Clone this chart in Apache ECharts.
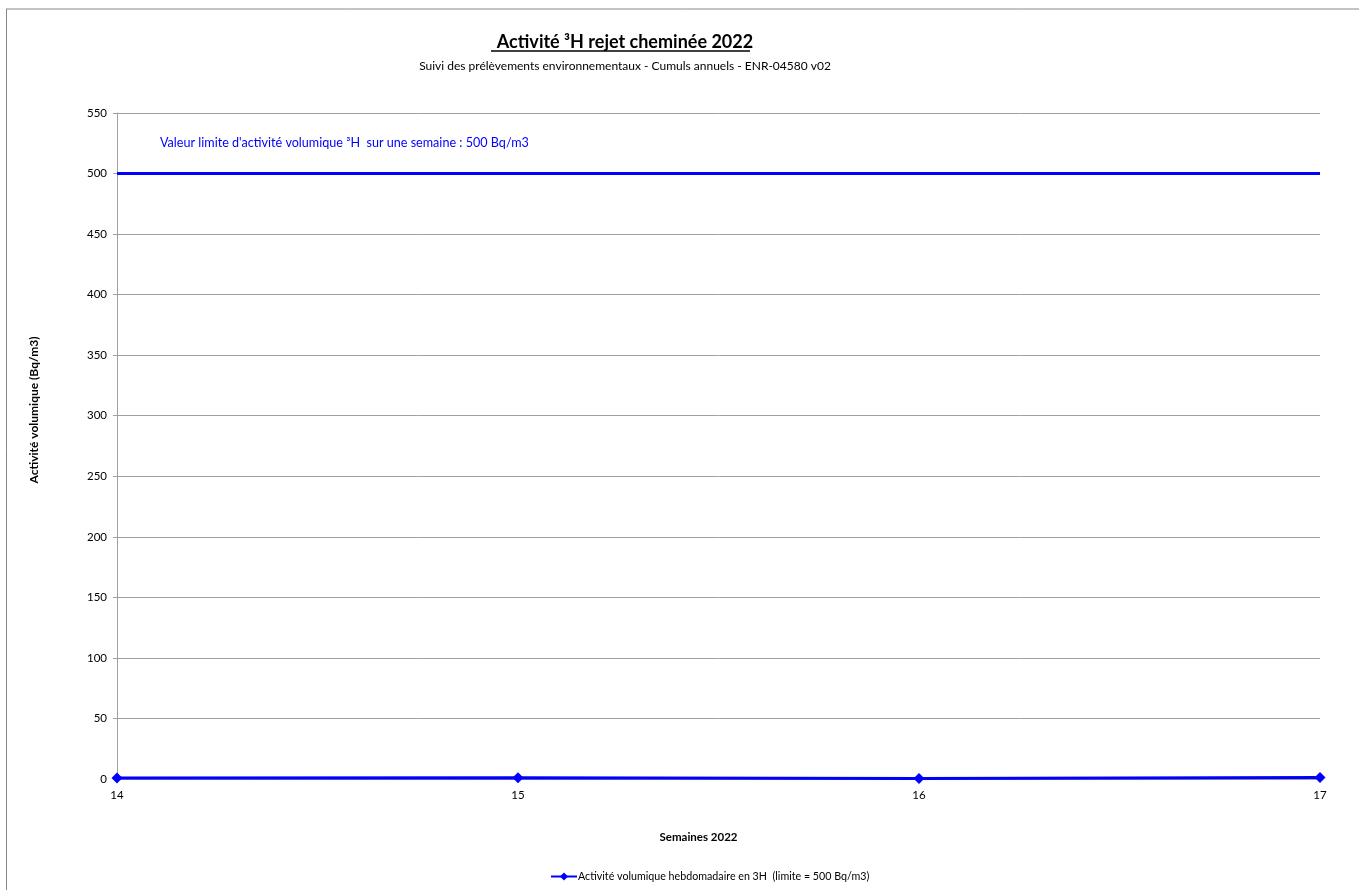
<!DOCTYPE html>
<html>
<head>
<meta charset="utf-8">
<script src="https://cdn.jsdelivr.net/npm/echarts@6/dist/echarts.min.js"></script>
<style>html,body{margin:0;padding:0;background:#fff;}#c{width:1359px;height:890px;}</style>
</head>
<body>
<div id="c"></div>
<script>
const weeks = ['14', '15', '16', '17'];
const activity = [0.8, 1.0, 0.4, 1.3];
const limit = [500, 500, 500, 500];
const yTicks = [0, 50, 100, 150, 200, 250, 300, 350, 400, 450, 500, 550];
const yAxisTitle = 'Activité volumique (Bq/m3)';

const FONT = 'Lato, "Open Sans", sans-serif';
const chart = echarts.init(document.getElementById('c'));
chart.setOption({
  backgroundColor: '#fff',
  animation: false,
  textStyle: { fontFamily: FONT },
  title: [
    { text: 'Activité ³H rejet cheminée 2022', left: 620, top: 28, textAlign: 'center',
      textStyle: { fontSize: 18, fontWeight: 'bold', color: '#000', fontFamily: FONT } },
    { text: 'Suivi des prélèvements environnementaux - Cumuls annuels - ENR-04580 v02', left: 620, top: 55, textAlign: 'center',
      textStyle: { fontSize: 12, fontWeight: 'normal', color: '#000', fontFamily: FONT } },
    { text: "Valeur limite d'activité volumique ³H  sur une semaine : 500 Bq/m3", left: 155, top: 131,
      textStyle: { fontSize: 12.6, fontWeight: 'normal', color: '#0000ff', fontFamily: FONT } }
  ],
  graphic: [
    { type: 'line', shape: { x1: 491, y1: 51, x2: 750, y2: 51 }, style: { stroke: '#000', lineWidth: 1.5 } },
    { type: 'line', shape: { x1: 6, y1: 9, x2: 1359, y2: 9 }, style: { stroke: '#888', lineWidth: 1 } },
    { type: 'line', shape: { x1: 6.5, y1: 9, x2: 6.5, y2: 890 }, style: { stroke: '#888', lineWidth: 1 } },
    { type: 'text', x: 34, y: 410, rotation: Math.PI / 2,
      style: { text: yAxisTitle, align: 'center', verticalAlign: 'middle', fill: '#000',
               font: 'bold 12px ' + FONT } }
  ],
  grid: { left: 117, right: 39, top: 113, bottom: 111, containLabel: false },
  legend: {
    bottom: 3, left: 545,
    data: [{ name: 'Activité volumique hebdomadaire en 3H  (limite = 500 Bq/m3)' }],
    itemWidth: 26, itemHeight: 10, itemGap: 0,
    textStyle: { fontSize: 10.7, color: '#000', fontFamily: FONT, padding: [0, 0, 0, -4] }
  },
  xAxis: {
    type: 'category', data: weeks, boundaryGap: false,
    name: 'Semaines 2022', nameLocation: 'middle', nameGap: 52,
    nameTextStyle: { fontSize: 11.5, fontWeight: 'bold', color: '#000', fontFamily: FONT, padding: [0, 40, 0, 0] },
    axisLine: { lineStyle: { color: '#a0a0a0' } },
    axisTick: { show: false },
    axisLabel: { fontSize: 11.5, color: '#000', margin: 10 },
    splitLine: { show: false }
  },
  yAxis: {
    type: 'value', min: yTicks[0], max: yTicks[yTicks.length - 1], interval: 50,
    axisLine: { show: true, lineStyle: { color: '#a0a0a0' } },
    axisTick: { show: true, length: 4, lineStyle: { color: '#a0a0a0' } },
    axisLabel: { fontSize: 11.5, color: '#000', margin: 10 },
    splitLine: { lineStyle: { color: '#a0a0a0', width: 1 } }
  },
  series: [
    { name: 'Limite', type: 'line', data: limit, symbol: 'none',
      lineStyle: { color: '#0000ff', width: 3 }, itemStyle: { color: '#0000ff' }, z: 3 },
    { name: 'Activité volumique hebdomadaire en 3H  (limite = 500 Bq/m3)', type: 'line', data: activity,
      symbol: 'diamond', symbolSize: 11,
      lineStyle: { color: '#0000ff', width: 3 }, itemStyle: { color: '#0000ff' }, z: 4 }
  ]
});
</script>
</body>
</html>
